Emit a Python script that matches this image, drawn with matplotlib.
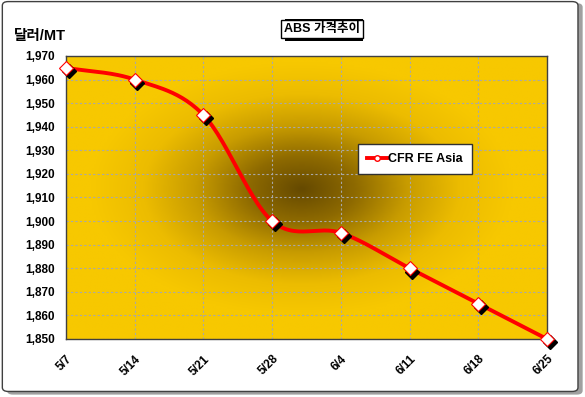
import matplotlib
matplotlib.use('Agg')
import matplotlib.pyplot as plt
from matplotlib.patches import FancyBboxPatch, Rectangle
from matplotlib.colors import LinearSegmentedColormap
import numpy as np

plt.rcParams['font.family'] = ['Liberation Sans', 'Noto Sans CJK KR']

dates = ['5/7', '5/14', '5/21', '5/28', '6/4', '6/11', '6/18', '6/25']
prices = [1965, 1960, 1945, 1900, 1895, 1880, 1865, 1850]
yticks = list(range(1850, 1971, 10))


def smooth(x, y, n=30):
    # catmull-rom style smoothing like excel's smoothed line
    x = np.asarray(x, float)
    y = np.asarray(y, float)
    px = np.concatenate([[2 * x[0] - x[1]], x, [2 * x[-1] - x[-2]]])
    py = np.concatenate([[2 * y[0] - y[1]], y, [2 * y[-1] - y[-2]]])
    xs, ys = [], []
    for i in range(1, len(px) - 2):
        t = np.linspace(0, 1, n)
        for arr, out in ((px, xs), (py, ys)):
            p0, p1, p2, p3 = arr[i - 1], arr[i], arr[i + 1], arr[i + 2]
            out.extend(0.5 * ((2 * p1) + (-p0 + p2) * t +
                              (2 * p0 - 5 * p1 + 4 * p2 - p3) * t ** 2 +
                              (-p0 + 3 * p1 - 3 * p2 + p3) * t ** 3))
    return np.array(xs), np.array(ys)


fig = plt.figure(figsize=(5.85, 3.97), dpi=100)
fig.patch.set_facecolor('white')

# outer rounded frame with shadow
fig.patches.append(FancyBboxPatch((0.012, 0.006), 0.984, 0.986, boxstyle='round,pad=0,rounding_size=0.01',
                                  transform=fig.transFigure, facecolor='#a0a0a0', edgecolor='none', zorder=-2))
fig.patches.append(FancyBboxPatch((0.004, 0.014), 0.984, 0.982, boxstyle='round,pad=0,rounding_size=0.01',
                                  transform=fig.transFigure, facecolor='white', edgecolor='#404040',
                                  linewidth=1, zorder=-1))

ax = fig.add_axes([66 / 585, 1 - 339 / 397, 481 / 585, 283 / 397])
ax.set_zorder(2)

# radial gradient background
gx, gy = np.meshgrid(np.linspace(-1, 1, 300), np.linspace(-1, 1, 200))
r = np.sqrt(((gx + 0.02) / 0.88) ** 2 + ((gy - 0.06) / 0.9) ** 2)
r = np.clip(r, 0, 1)
cmap = LinearSegmentedColormap.from_list('g', ['#664a00', '#8e6a00', '#c89c00', '#ecbc00', '#f7c800'])
ax.imshow(r, cmap=cmap, extent=[-0.0, 7.0, 1850, 1970], aspect='auto', origin='lower', zorder=0,
          interpolation='bilinear')

ax.set_xlim(0, 7)
ax.set_ylim(1850, 1970)
ax.set_xticks(range(len(dates)))
ax.set_xticklabels(dates, rotation=45, ha='right', rotation_mode='anchor', fontsize=8.5, fontweight='bold')
ax.set_yticks(yticks)
ax.set_yticklabels([f'{v:,}' for v in yticks], fontsize=8.5, fontweight='bold')
ax.tick_params(axis='both', length=0, pad=8)
ax.tick_params(axis='x', pad=10)
ax.grid(True, color='#a8a8a8', linestyle=(0, (2, 2)), linewidth=0.8)
for s in ax.spines.values():
    s.set_color('#404040')
    s.set_linewidth(1)

xi = np.arange(len(prices))
sx, sy = smooth(xi, prices)
ax.plot(sx, sy, color='#ff0000', linewidth=2.8, zorder=3, clip_on=False)
# marker shadows
ax.plot(xi + 0.04, np.array(prices) - 1.4, linestyle='none', marker='D', markersize=7,
        color='black', zorder=4, clip_on=False)
ax.plot(xi, prices, linestyle='none', marker='D', markersize=7, markerfacecolor='white',
        markeredgecolor='#ff0000', markeredgewidth=0.8, zorder=5, clip_on=False)

# legend
leg_line, = ax.plot([], [], color='#ff0000', linewidth=2.8, marker='o', markersize=4,
                    markerfacecolor='white', markeredgecolor='#ff0000')
leg = ax.legend([leg_line], ['CFR FE Asia'], loc='upper left', bbox_to_anchor=(286 / 481, 1 - 82 / 283),
                frameon=True, fancybox=False, prop={'weight': 'bold', 'size': 9}, handlelength=1.6,
                handletextpad=0.1, borderpad=0.7)
leg.get_frame().set_edgecolor('#303030')
leg.get_frame().set_linewidth(1)
leg.get_frame().set_alpha(1)

# title box with shadow
fig.patches.append(Rectangle((285 / 585, 1 - 41 / 397), 78 / 585, 22 / 397, transform=fig.transFigure,
                             facecolor='black', edgecolor='none', zorder=1))
fig.text(322 / 585, 1 - 29 / 397, 'ABS 가격추이', ha='center', va='center', fontsize=9, fontweight='bold',
         zorder=3, bbox=dict(boxstyle='square,pad=0.25', facecolor='white', edgecolor='black', linewidth=1))
fig.text(14 / 585, 1 - 36 / 397, '달러/MT', ha='left', va='center', fontsize=10.5, fontweight='bold')

fig.savefig('out.png', dpi=100)
